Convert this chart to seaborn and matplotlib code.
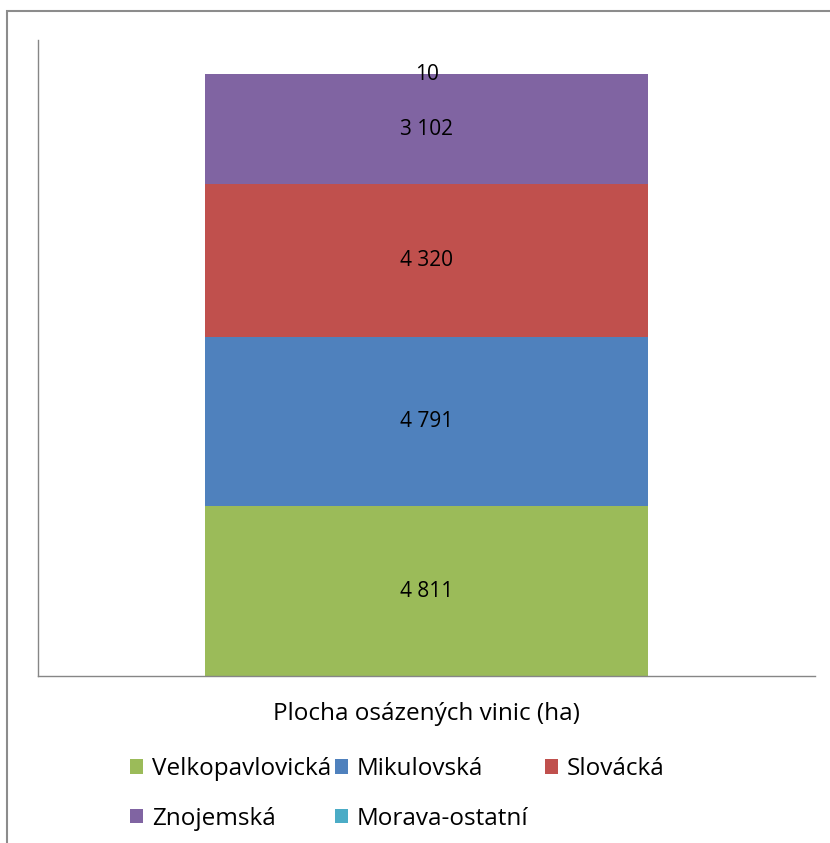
import matplotlib
matplotlib.use("Agg")
import matplotlib.pyplot as plt
import seaborn as sns
import pandas as pd
import numpy as np
from matplotlib.patches import Rectangle, Patch

sns.set_theme(style="white")
plt.rcParams['font.family'] = ['Open Sans', 'DejaVu Sans']
plt.rcParams['text.color'] = 'black'

category = ["Plocha osázených vinic (ha)"]
series = ["Velkopavlovická", "Mikulovská", "Slovácká", "Znojemská", "Morava-ostatní"]
values = [4811, 4791, 4320, 3102, 10]
colors = ["#9BBB59", "#4F81BD", "#C0504D", "#8064A2", "#4BACC6"]

W, H, DPI = 830, 843, 100
fig = plt.figure(figsize=(W / DPI, H / DPI), dpi=DPI)
ax = fig.add_axes([38 / W, 1 - 676 / H, (815 - 38) / W, (676 - 40) / H])

bottom = 0
for name, val, col in zip(series, values, colors):
    df = pd.DataFrame({"cat": category, "val": [val]})
    sns.barplot(data=df, x="cat", y="val", color=col, bottom=bottom, width=0.569,
                saturation=1, ax=ax, label=name, edgecolor="none", linewidth=0)
    label = f"{val:,}".replace(",", " ")
    ax.text(0, bottom + val / 2, label, ha="center", va="center", fontsize=15, color="black")
    bottom += val

ax.set_ylim(0, 18000)
ax.set_xlim(-0.5, 0.5)
ax.set_xlabel("")
ax.set_ylabel("")
ax.set_yticks([])
ax.tick_params(axis="x", length=0, pad=19, labelsize=17.5, colors="black")
for s in ["top", "right"]:
    ax.spines[s].set_visible(False)
for s in ["left", "bottom"]:
    ax.spines[s].set_color("#868686")
    ax.spines[s].set_linewidth(1)
if ax.get_legend():
    ax.get_legend().remove()

# legend laid out row-major in three columns, as in the reference
columns = [[0, 3], [1, 4], [2]]
col_x = [130, 335, 545]
for idxs, cx in zip(columns, col_x):
    handles = [Patch(facecolor=colors[i], edgecolor="none") for i in idxs]
    labels = [series[i] for i in idxs]
    fig.legend(handles, labels, ncol=1, loc="upper left", bbox_to_anchor=(cx / W, 1 - 757 / H),
               frameon=False, fontsize=17.5, handlelength=0.55, handleheight=0.55,
               handletextpad=0.35, labelspacing=1.05, borderpad=0, borderaxespad=0,
               labelcolor="black")

fig.patches.append(Rectangle((7 / W, -0.1), 1.2, 1 - 11 / H + 0.1, transform=fig.transFigure,
                             fill=False, edgecolor="#8c8c8c", linewidth=1.5))

fig.savefig("out.png", dpi=DPI, facecolor="white")
